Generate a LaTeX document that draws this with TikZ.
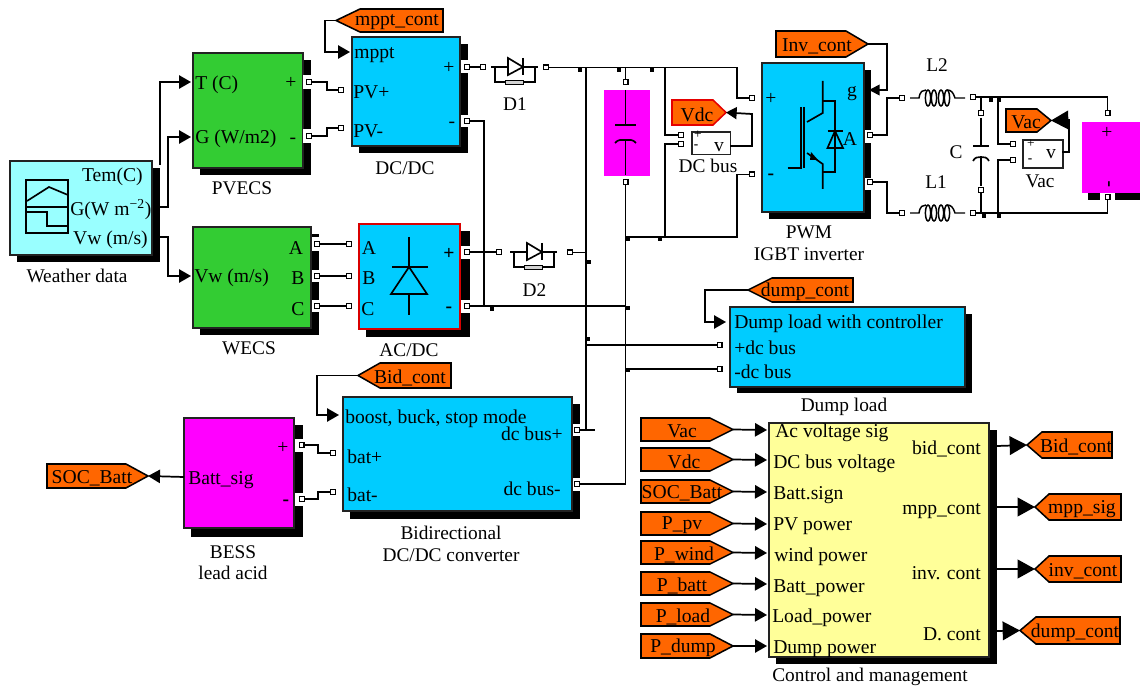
\documentclass[tikz,border=0pt]{standalone}
\usepackage{fontspec}
\setmainfont{Liberation Serif}
\usetikzlibrary{arrows.meta,calc}
\newcounter{tx}
\tikzset{
  x=0.75pt,y=-0.75pt,
  wire/.style={line width=1.3pt,line join=miter},
  icon/.style={line width=1.25pt},
  arr/.style={wire,-{Triangle[length=9pt,width=10pt]}},
  bigarr/.style={wire,-{Triangle[length=13pt,width=14pt]}},
  port/.style={draw,fill=white,line width=0.9pt,inner sep=0pt,minimum size=3.6pt},
  jct/.style={fill=black,inner sep=0pt,minimum size=3.6pt},
  lab/.style={font=\fontsize{14.5}{16}\selectfont,inner sep=0pt},
  blab/.style={font=\fontsize{14.7}{16}\selectfont,inner sep=0pt,yshift=-1.5pt},
  tiny/.style={font=\fontsize{10}{11}\selectfont,inner sep=0pt},
}
% block: name x1 y1 x2 y2 shadowx shadowy fill draw
\newcommand\blk[9]{%
  \fill[black] (#2+7,#3+7) rectangle (#6,#7);
  \pgfmathsetlengthmacro\bw{(#4-#2)*0.75pt}%
  \pgfmathsetlengthmacro\bh{(#5-#3)*0.75pt}%
  \node[draw=#9,fill=#8,line width=1.15pt,inner sep=0pt,outer sep=0pt,minimum width=\bw,minimum height=\bh,anchor=north west] (#1) at (#2,#3) {};}
% notch
\newcommand\notch[4]{\fill[white] (#1,#3) rectangle (#2,#4);}
% text: anchor x y text
\newcommand\LB[4]{\stepcounter{tx}\node[lab,anchor=#1,name=t\thetx] at (#2,#3) {#4};}
\newcommand\BT[4]{\stepcounter{tx}\node[blab,anchor=#1,name=t\thetx] at (#2,#3) {#4};}
\newcommand\TT[3]{\stepcounter{tx}\node[tiny,name=t\thetx] at (#1,#2) {#3};}
% east tag: name xl xb xr y1 y2 textx text drawcolour
\newcommand\tagE[9][black]{%
  \pgfmathsetmacro\ym{(#6+#7)/2}%
  \filldraw[fill=orange1,draw=#1,line width=1.15pt] (#3,#6) -- (#4,#6) -- (#5,\ym) -- (#4,#7) -- (#3,#7) -- cycle;
  \coordinate (#2) at (#5,\ym);
  \node[blab,name=#2t] at (#8,\ym) {#9};}
% west tag: name xtip xb xr y1 y2 textx text
\newcommand\tagW[8]{%
  \pgfmathsetmacro\ym{(#5+#6)/2}%
  \filldraw[fill=orange1,draw=black,line width=1.15pt] (#2,\ym) -- (#3,#5) -- (#4,#5) -- (#4,#6) -- (#3,#6) -- cycle;
  \coordinate (#1) at (#2,\ym);
  \node[blab,name=#1t] at (#7,\ym) {#8};}
% diode icon: x of left lead, y
\newcommand\snubdiode[2]{%
  \draw[icon] (#1,#2) -- (#1+17,#2) (#1+32,#2) -- (#1+47,#2);
  \draw[icon] (#1+17,#2-9) -- (#1+32,#2) -- (#1+17,#2+8) -- cycle;
  \draw[icon] (#1+32,#2-9) -- (#1+32,#2+8);
  \draw[line width=1pt] (#1+4,#2) -- (#1+4,#2+15) -- (#1+14,#2+15) (#1+32,#2+15) -- (#1+44,#2+15) -- (#1+44,#2);
  \filldraw[draw=black,fill=gray!35,line width=0.6pt] (#1+14,#2+13) rectangle (#1+32,#2+17);}
% coil: x left, y
\newcommand\coil[2]{%
  \draw[line width=1.1pt] (#1,#2) -- (#1+9,#2) .. controls (#1+10,#2-7) and (#1+13,#2-8) .. (#1+16,#2-8)
     (#1+37,#2-8) .. controls (#1+41,#2-8) and (#1+43,#2-6) .. (#1+45,#2) -- (#1+55,#2);
  \foreach \cx in {18,24,31,37}{\draw[line width=1.1pt] (#1+\cx,#2) ellipse [x radius=2.6,y radius=8];}}
\definecolor{orange1}{HTML}{FF6600}
\definecolor{cyanb}{HTML}{00CCFF}
\definecolor{greenb}{HTML}{33CC33}
\definecolor{magb}{HTML}{FF00FF}
\definecolor{ltcyan}{HTML}{99FFFF}
\definecolor{ltyel}{HTML}{FFFF99}
\definecolor{edge}{HTML}{222222}
\begin{document}
\begin{tikzpicture}
\useasboundingbox (0,0) rectangle (1140,688);
\fill[white] (0,0) rectangle (1140,688);

% ---------- blocks ----------
\blk{wx}{10}{161}{152}{255}{160}{262}{ltcyan}{edge}
\blk{pv}{193}{53}{303}{168}{311}{175}{greenb}{edge}
\blk{dc}{352}{37}{460}{146}{468}{153}{cyanb}{edge}
\blk{we}{193}{227}{311}{328}{319}{335}{greenb}{edge}
\blk{ac}{359}{224}{460}{329}{470}{337}{cyanb}{red!85!black}
\blk{inv}{762}{63}{864}{212}{871}{219}{cyanb}{edge}
\blk{dump}{730}{307}{965}{387}{972}{393}{cyanb}{edge}
\blk{bid}{343}{397}{572}{511}{580}{519}{cyanb}{edge}
\blk{bess}{184}{418}{294}{528}{303}{537}{magb}{edge}
\blk{ctl}{769}{423}{989}{657}{997}{664}{ltyel}{edge}
\fill[black] (1088,193) rectangle (1140,200);
\node[fill=magb,inner sep=0pt,minimum width=43.5pt,minimum height=53.25pt,anchor=north west] (load) at (1082,122) {};
\node[fill=magb,inner sep=0pt,minimum width=34.5pt,minimum height=64.5pt,anchor=north west] (cap) at (604,90) {};
\node[draw=edge,fill=white,line width=1.15pt,inner sep=0pt,minimum width=29pt,minimum height=17pt,anchor=north west] (mdc) at (691,131) {};
\node[draw=edge,fill=white,line width=1.15pt,inner sep=0pt,minimum width=30pt,minimum height=21pt,anchor=north west] (mac) at (1022,139) {};

% ---------- notches ----------
\notch{303}{311.5}{75}{89}\notch{303}{311.5}{129}{143}
\notch{460.5}{468.5}{60}{73}\notch{460.5}{468.5}{115}{127}
\notch{311.5}{319.5}{237}{251}\notch{311.5}{319.5}{270}{282}\notch{311.5}{319.5}{300}{312}
\notch{461}{470.5}{246}{259}\notch{461}{470.5}{300}{313}
\notch{865}{872}{130}{143}\notch{865}{872}{178}{190}
\notch{294.5}{303.5}{439}{452}\notch{294.5}{303.5}{493}{506}
\notch{572.5}{580.5}{424}{436}\notch{572.5}{580.5}{478}{491}
\fill[white] (1100,193) rectangle (1115,200);

% ---------- ports ----------
\node[port] (pvP) at (309,82) {};
\node[port] (pvM) at (309,136) {};
\node[port] (dcPVp) at (341,90) {};
\node[port] (dcPVm) at (341,128) {};
\node[port] (dcP) at (467,67) {};
\node[port] (dcM) at (467,121) {};
\node[port] (d1L) at (483,67) {};
\node[port] (d1R) at (546,67.5) {};
\node[port] (weA) at (317,244) {};
\node[port] (weB) at (317,276) {};
\node[port] (weC) at (317,306) {};
\node[port] (acA) at (349,244) {};
\node[port] (acB) at (349,276) {};
\node[port] (acC) at (349,306) {};
\node[port] (acP) at (467,252) {};
\node[port] (acM) at (467,306) {};
\node[port] (d2L) at (499,252) {};
\node[port] (d2R) at (570,252.5) {};
\node[port] (capT) at (625.5,82) {};
\node[port] (capB) at (625.5,182) {};
\node[port] (mdcP) at (681,135) {};
\node[port] (mdcM) at (681,144) {};
\node[port] (invP) at (752,98) {};
\node[port] (invM) at (752,174.5) {};
\node[port] (invA) at (870,135) {};
\node[port] (invB) at (870,182) {};
\node[port] (l2L) at (902,98) {};
\node[port] (l2R) at (973,97) {};
\node[port] (l1L) at (902,213) {};
\node[port] (l1R) at (973,213) {};
\node[port] (cT) at (981,113) {};
\node[port] (cB) at (981,190) {};
\node[port] (macP) at (1013,144) {};
\node[port] (macM) at (1013,160) {};
\node[port] (loadT) at (1107.5,113) {};
\node[port] (loadB) at (1107.5,197) {};
\node[port] (duP) at (719.5,345) {};
\node[port] (duM) at (719.5,369) {};
\node[port] (bidbP) at (333,453) {};
\node[port] (bidbM) at (333,492) {};
\node[port] (bidP) at (577,430) {};
\node[port] (bidM) at (577,484) {};
\node[port] (besP) at (301.5,445) {};
\node[port] (besM) at (302,499) {};

% ---------- tags ----------
\tagW{mpptT}{336}{360}{443}{9}{32}{397}{mppt\_cont}
\tagE[red!90!black]{vdcT}{672}{713}{726}{100}{125}{697}{Vdc}
\tagE{invT}{776}{846}{868}{31}{57}{817}{Inv\_cont}
\tagE{vacT}{1006}{1037}{1051}{109}{132}{1026}{Vac}
\tagW{dumpT}{748}{772}{853}{278}{302}{805}{dump\_cont}
\tagW{bidT}{358}{380}{451}{363}{388}{410}{Bid\_cont}
\tagE{socT}{47}{126}{148}{464}{488}{92}{SOC\_Batt}
\tagE{iVac}{641}{710}{733}{418}{441}{682}{Vac}
\tagE{iVdc}{641}{710}{733}{448}{471}{684}{Vdc}
\tagE{iSoc}{641}{710}{733}{480}{503}{682}{SOC\_Batt}
\tagE{iPv}{641}{710}{733}{512}{535}{682}{P\_pv}
\tagE{iWind}{641}{710}{733}{541}{564}{684}{P\_wind}
\tagE{iBatt}{641}{710}{733}{572}{595}{682}{P\_batt}
\tagE{iLoad}{641}{710}{733}{603}{626}{683}{P\_load}
\tagE{iDump}{641}{710}{733}{634}{658}{683}{P\_dump}
\tagW{oBid}{1027}{1042}{1112}{432}{458}{1076}{Bid\_cont}
\tagW{oMpp}{1035}{1049}{1121}{494}{520}{1082}{mpp\_sig}
\tagW{oInv}{1035}{1049}{1121}{556}{582}{1083}{inv\_cont}
\tagW{oDump}{1020}{1036}{1120}{617}{644}{1075}{dump\_cont}

% ---------- connector end coordinates ----------
\coordinate (wxT) at (160,165);
\coordinate (wxG) at (160,207);
\coordinate (wxV) at (160,237);
\coordinate (pvT) at (191,82);
\coordinate (pvG) at (191,137);
\coordinate (weV) at (191,276);
\coordinate (dcM1) at (350,52);
\coordinate (dmI) at (726,322);
\coordinate (bidI) at (339,415);
\coordinate (invG) at (869,90);
\coordinate (mdcO) at (730,146);
\coordinate (macO) at (1062,152);
\coordinate (besO) at (184,477);
\foreach \n/\y in {a/430,b/460,c/492,d/524,e/553,f/584,g/615,h/646}{\coordinate (ci\n) at (767,\y);}
\foreach \n/\y in {1/446,2/507,3/569,4/631}{\coordinate (co\n) at (997,\y);}

% ---------- wires ----------
\draw[arr] (wxT) |- (pvT);
\draw[arr] (wxG) -| (168,137) -- (pvG);
\draw[arr] (wxV) -| (168,276) -- (weV);
\draw[arr] (mpptT) -| (325,52) -- (dcM1);
\draw[wire] (pvP) -| (327,90) -- (dcPVp);
\draw[wire] (pvM) -| (327,128) -- (dcPVm);
\draw[wire] (dcP) -- (d1L);
\draw[wire] (dcM) -| (484,306);
\draw[wire] (weA) -- (acA);
\draw[wire] (weB) -- (acB);
\draw[wire] (weC) -- (acC);
\draw[wire] (acP) -- (d2L);
\draw[wire] (acM) -- (626,306);
\draw[wire] (d2R) -- (586,252.5);
\draw[wire] (d1R) -- (737,67.5) |- (invP);
\draw[wire] (586,67.5) |- (bidP);
\draw[wire] (bidP) -- (595,430);
\draw[wire] (capT) -- (625.5,67.5);
\draw[wire] (capB) |- (bidM);
\draw[wire] (625.5,237) -- (737,237) |- (invM);
\draw[wire] (665,67.5) |- (mdcP);
\draw[wire] (665,237) |- (mdcM);
\draw[arr,-{Triangle[length=8pt,width=9pt]}] (mdcO) -| (752,114) -- (vdcT);
\draw[wire] (586,345) -- (duP);
\draw[wire] (626,369) -- (duM);
\draw[arr,-{Triangle[length=8pt,width=8pt]}] (invT) -| (887,90) -- (invG);
\draw[wire] (invA) -| (887,98) -- (l2L);
\draw[wire] (invB) -| (887,213) -- (l1L);
\draw[wire] (l2R) -- (1107.5,97) -- (loadT);
\draw[wire] (l1R) -- (1107.5,213) -- (loadB);
\draw[wire] (cT) -- (981,97);
\draw[wire] (cB) -- (981,213);
\draw[wire] (998,97) |- (macP);
\draw[wire] (998,213) |- (macM);
\draw[bigarr] (macO) -| (1069,120) -- (vacT);
\draw[arr] (dumpT) -| (705,322) -- (dmI);
\draw[arr] (bidT) -| (317,415) -- (bidI);
\draw[wire] (besP) -| (318,453) -- (bidbP);
\draw[wire] (besM) -| (318,492) -- (bidbM);
\draw[arr] (besO) -- (socT);
\draw[arr] (iVac) -- (cia);
\draw[arr] (iVdc) -- (cib);
\draw[arr] (iSoc) -- (cic);
\draw[arr] (iPv) -- (cid);
\draw[arr] (iWind) -- (cie);
\draw[arr] (iBatt) -- (cif);
\draw[arr] (iLoad) -- (cig);
\draw[arr] (iDump) -- (cih);
\draw[bigarr] (co1) -- (oBid);
\draw[bigarr] (co2) -- (oMpp);
\draw[bigarr] (co3) -- (oInv);
\draw[bigarr] (co4) -- (oDump);

% ---------- junctions ----------
\foreach \n/\x/\y in {j1/580/69.5,j2/619/69.5,j3/652/69.5,j4/492/309,j5/589/262,j6/628/239,j7/660/239,j8/628/308,j9/588/339,j10/628/370,j11/991/100,j12/999/100,j13/984/216,j14/999/216}{\node[jct] (\n) at (\x,\y) {};}

% ---------- diode / coil icons ----------
\snubdiode{491}{67}
\snubdiode{510}{252}
\coil{910}{98}
\coil{910}{213}

% weather icon
\draw[icon] (26,180) rectangle (68,233);
\draw[icon] (26,207) -- (68,207);
\draw[icon] (27,201) -- (49,187) -- (68,195);
\draw[icon] (26,212) -- (47,212) -- (47,226) -- (68,226);

% ac/dc icon
\draw[icon] (409,237) -- (409,267) (409,294) -- (409,315);
\draw[icon] (392,267) -- (428,267);
\draw[icon] (409,267) -- (391,294) -- (427,294) -- cycle;

% big capacitor
\draw[icon] (625.5,90) -- (625.5,124) (625.5,140) -- (625.5,175);
\draw[icon] (615,125) -- (636,125);
\draw[icon] (615,143) .. controls (618,139) and (622,140) .. (625.5,140) .. controls (629,140) and (633,139) .. (636,143);

% ac capacitor
\draw[icon] (981,118) -- (981,146) (981,157) -- (981,186);
\draw[icon] (973,146) -- (989,146);
\draw[icon] (973,161) .. controls (975,157) and (978,157) .. (981,157) .. controls (984,157) and (987,157) .. (989,161);

% IGBT
\draw[icon] (787.5,168) -- (801,168) -- (801,107) (804,107) -- (804,168);
\draw[icon] (822.7,81) -- (822.7,113) -- (807,122);
\draw[icon] (807,153) -- (822.7,164) -- (822.7,189);
\draw[icon] (822.7,101) -- (835,101) -- (835,172) -- (822.7,172);
\draw[icon] (827.5,131) -- (843,131);
\draw[icon] (835,131) -- (827.5,148) -- (843,148) -- cycle;
\fill (811,152) -- (818,160) -- (810,160) -- cycle;

% ---------- block texts ----------
\BT{east}{143}{175}{Tem(C)}
\BT{west}{70}{208}{G(W m\textsuperscript{−2})}
\BT{east}{148}{238}{Vw (m/s)}
\BT{west}{195}{83}{T (C)}
\BT{west}{195}{137}{G (W/m2)}
\BT{center}{291}{81}{+}
\BT{center}{293}{139}{-}
\BT{west}{354}{53}{mppt}
\BT{west}{353}{90}{PV+}
\BT{west}{353}{129}{PV-}
\BT{center}{449}{66}{+}
\BT{center}{452}{123}{-}
\BT{west}{194}{276}{Vw (m/s)}
\BT{center}{296}{246}{A}
\BT{center}{298}{276}{B}
\BT{center}{298}{307}{C}
\BT{center}{369}{246}{A}
\BT{center}{369}{276}{B}
\BT{center}{368}{307}{C}
\BT{center}{449}{252}{\textbf{+}}
\BT{center}{449}{308}{\textbf{-}}
\BT{center}{771}{97}{+}
\BT{center}{771}{175}{\textbf{-}}
\BT{center}{852}{92}{g}
\BT{center}{850}{137}{A}
\TT{698}{135}{+}
\TT{696}{147}{\textbf{-}}
\BT{center}{719}{145}{v}
\TT{1031}{144}{+}
\TT{1030}{161}{\textbf{-}}
\BT{center}{1051}{152}{v}
\BT{center}{1107}{131}{+}
\BT{center}{1111}{182}{\rotatebox{90}{\textbf{-}}}
\BT{west}{734}{322}{Dump load with controller}
\BT{west}{734}{346}{+dc bus}
\BT{west}{734}{370}{-dc bus}
\BT{west}{345}{417}{boost, buck, stop mode}
\BT{west}{347}{455}{bat+}
\BT{west}{347}{493}{bat-}
\BT{east}{563}{432}{dc bus+}
\BT{east}{561}{487}{dc bus-}
\BT{west}{188}{478}{Batt\_sig}
\BT{center}{283}{446}{+}
\BT{center}{286}{501}{\textbf{-}}
\BT{west}{775}{431}{Ac voltage sig}
\BT{west}{773}{462}{DC bus voltage}
\BT{west}{773}{493}{Batt.sign}
\BT{west}{773}{524}{PV power}
\BT{west}{774}{555}{wind power}
\BT{west}{773}{586}{Batt\_power}
\BT{west}{772}{616}{Load\_power}
\BT{west}{773}{647}{Dump power}
\BT{east}{981}{447}{bid\_cont}
\BT{east}{981}{509}{mpp\_cont}
\BT{east}{981}{571}{inv. cont}
\BT{east}{981}{632}{D. cont}

% ---------- captions ----------
\LB{center}{77}{276}{Weather data}
\LB{center}{242}{188}{PVECS}
\LB{center}{405}{168}{DC/DC}
\LB{center}{515}{104}{D1}
\LB{center}{534.5}{290}{D2}
\LB{center}{249}{348}{WECS}
\LB{center}{409}{350}{AC/DC}
\LB{center}{708}{166}{DC bus}
\LB{center}{809}{232}{PWM}
\LB{center}{809}{254}{IGBT inverter}
\LB{center}{937}{65}{L2}
\LB{center}{936}{182}{L1}
\LB{center}{956}{152}{C}
\LB{center}{1040}{181}{Vac}
\LB{center}{844}{407}{Dump load}
\LB{center}{233}{552}{BESS}
\LB{center}{233}{573}{lead acid}
\LB{center}{451}{533}{Bidirectional}
\LB{center}{451}{555}{DC/DC converter}
\LB{center}{870}{677}{Control and management}
\end{tikzpicture}
\end{document}
